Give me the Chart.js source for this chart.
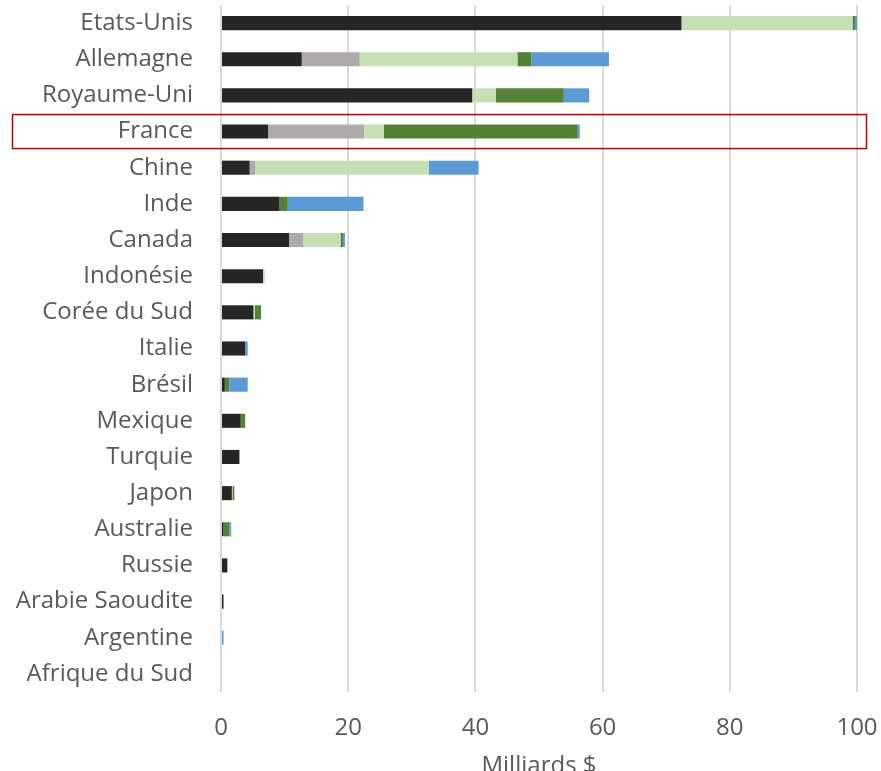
<!DOCTYPE html>
<html>
<head>
<meta charset="utf-8">
<script src="https://cdn.jsdelivr.net/npm/chart.js@4/dist/chart.umd.min.js"></script>
<style>
  html, body { margin: 0; padding: 0; background: #fff; }
  #wrap { width: 881px; height: 771px; position: relative; }
</style>
</head>
<body>
<div id="wrap"><canvas id="myChart"></canvas></div>
<script>
// pays
var categories = ['Etats-Unis', 'Allemagne', 'Royaume-Uni', 'France', 'Chine', 'Inde', 'Canada',
    'Indonésie', 'Corée du Sud', 'Italie', 'Brésil', 'Mexique', 'Turquie', 'Japon', 'Australie',
    'Russie', 'Arabie Saoudite', 'Argentine', 'Afrique du Sud'];

// séries (milliards $)
var serieNoir      = [72.4, 12.7, 39.5, 7.4, 4.5, 9.2, 10.7, 6.6, 5.1, 3.8, 0.6, 3.1, 2.9, 1.7, 0.4, 1.0, 0.4, 0, 0];
var serieGris      = [0, 9.1, 0, 15.1, 0.9, 0, 2.2, 0, 0, 0, 0, 0, 0, 0, 0, 0, 0, 0, 0];
var serieVertClair = [26.9, 24.8, 3.7, 3.1, 27.3, 0, 5.9, 0.3, 0.2, 0, 0, 0, 0, 0.1, 0, 0, 0, 0, 0];
var serieVertFonce = [0.4, 2.2, 10.7, 30.5, 0, 1.3, 0.4, 0, 1.0, 0, 0.7, 0.7, 0, 0.3, 0.9, 0, 0, 0, 0];
var serieBleu      = [0.3, 12.2, 4.0, 0.3, 7.8, 11.9, 0.3, 0, 0, 0.4, 2.9, 0, 0, 0, 0.3, 0, 0, 0.4, 0];

var xTicks = [0, 20, 40, 60, 80, 100];
var surligne = 'France';

var police = '"Open Sans", sans-serif';

// cadre rouge autour de la France
var cadrePlugin = {
    id: 'cadre',
    afterDraw: function(chart) {
        var y = chart.scales.y.getPixelForValue(categories.indexOf(surligne));
        var ctx = chart.ctx;
        ctx.save();
        ctx.strokeStyle = '#c00000';
        ctx.lineWidth = 1.5;
        ctx.strokeRect(12.5, y - 17, 854, 34);
        ctx.restore();
    }
};

function ds(label, data, color) {
    return {
        label: label,
        data: data,
        backgroundColor: color,
        borderWidth: 0,
        barPercentage: 0.39,
        categoryPercentage: 1
    };
}

new Chart(document.getElementById('myChart').getContext('2d'), {
    type: 'bar',
    data: {
        labels: categories,
        datasets: [
            ds('s1', serieNoir, '#262626'),
            ds('s2', serieGris, '#aeaaaa'),
            ds('s3', serieVertClair, '#c5e0b4'),
            ds('s4', serieVertFonce, '#548235'),
            ds('s5', serieBleu, '#5b9bd5')
        ]
    },
    options: {
        indexAxis: 'y',
        responsive: true,
        maintainAspectRatio: false,
        animation: false,
        layout: { padding: { top: 5, right: 24, left: 0, bottom: 0 } },
        plugins: {
            legend: { display: false },
            tooltip: { enabled: false }
        },
        scales: {
            x: {
                stacked: true,
                min: 0,
                max: 100,
                afterBuildTicks: function(scale) {
                    scale.ticks = xTicks.map(function(v) { return { value: v }; });
                },
                afterFit: function(scale) {
                    scale.height = 79;
                    scale.paddingLeft = 0;
                    scale.paddingRight = 0;
                },
                grid: { color: '#d9d9d9', lineWidth: 2, drawTicks: false },
                border: { display: false },
                ticks: {
                    padding: 22,
                    color: '#595959',
                    font: { family: police, size: 24 }
                },
                title: {
                    display: true,
                    text: 'Milliards $',
                    color: '#595959',
                    padding: { top: 0, bottom: -7 },
                    font: { family: police, size: 24, lineHeight: 1 }
                }
            },
            y: {
                stacked: true,
                afterFit: function(scale) {
                    scale.width = 221;
                    scale.paddingTop = 0;
                    scale.paddingBottom = 0;
                },
                grid: { display: false, drawTicks: false },
                border: { display: false },
                ticks: {
                    padding: 28,
                    color: '#595959',
                    autoSkip: false,
                    font: { family: police, size: 24 }
                }
            }
        }
    },
    plugins: [cadrePlugin]
});
</script>
</body>
</html>
